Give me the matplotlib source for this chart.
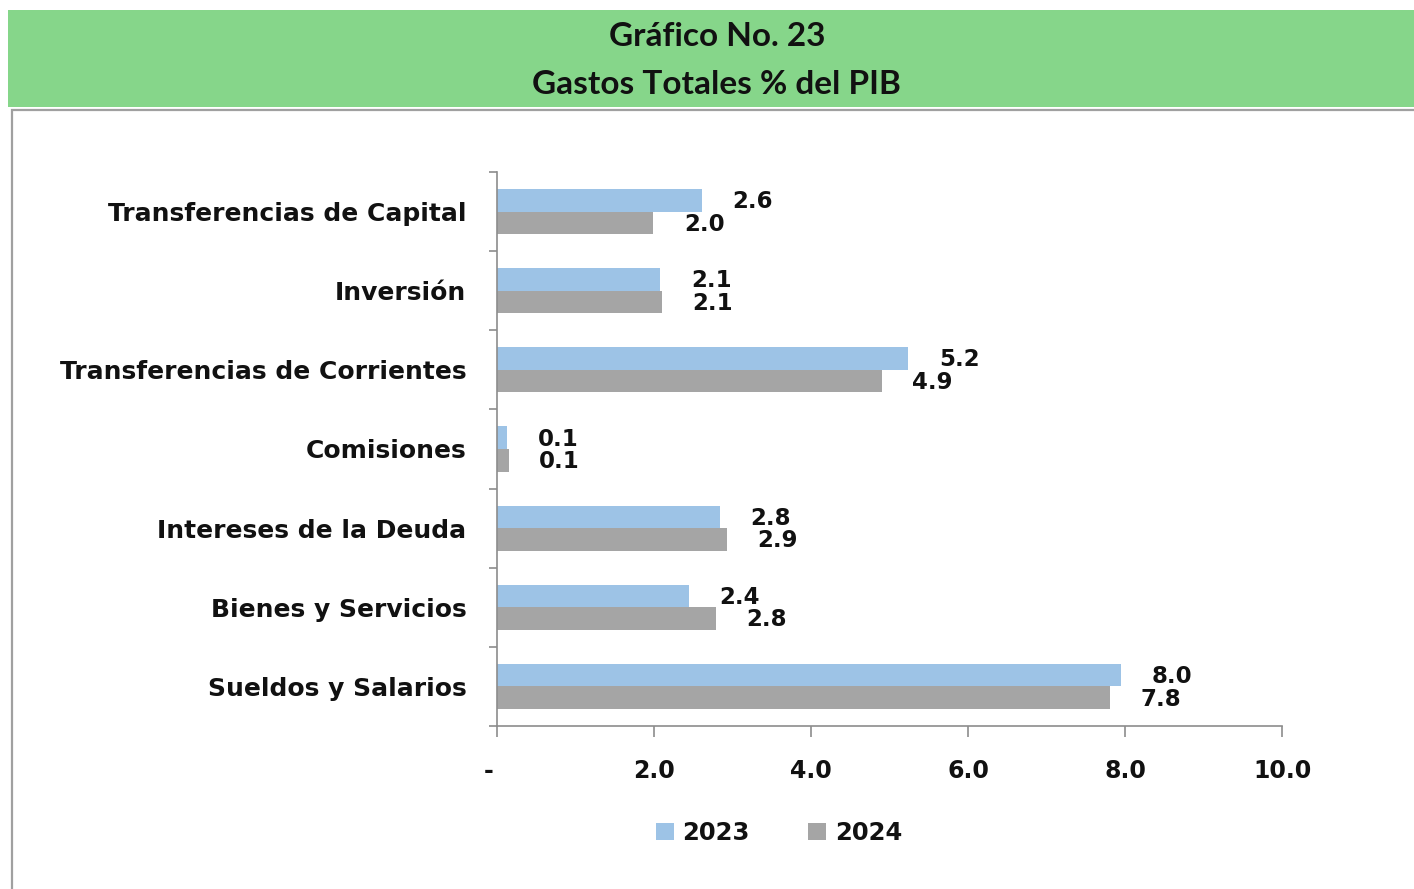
import matplotlib.pyplot as plt
from matplotlib.patches import Rectangle
from matplotlib.ticker import FuncFormatter
import numpy as np

categories = [
    "Sueldos y Salarios",
    "Bienes y Servicios",
    "Intereses de la Deuda",
    "Comisiones",
    "Transferencias de Corrientes",
    "Inversión",
    "Transferencias de Capital",
]
values_2023 = [7.95, 2.44, 2.84, 0.13, 5.24, 2.08, 2.61]
values_2024 = [7.81, 2.79, 2.93, 0.15, 4.90, 2.10, 1.99]
x_ticks = [0, 2, 4, 6, 8, 10]

blue = "#9DC3E6"
gray = "#A5A5A5"
green = "#86D68A"
axis_gray = "#8C8C8C"

fig = plt.figure(figsize=(14.14, 8.89), dpi=100)

# header band
fig.patches.append(Rectangle((8 / 1414, 1 - 107 / 889), 1.0, 97 / 889,
                             transform=fig.transFigure, facecolor=green,
                             edgecolor="none", zorder=0))
# panel border
fig.patches.append(Rectangle((12 / 1414, -0.05), 1.0, 1 - 110 / 889 + 0.05,
                             transform=fig.transFigure, facecolor="none",
                             edgecolor="#A0A0A0", lw=1.6, zorder=0))

fig.text(0.507, 1 - 37 / 889, "Gráfico No. 23", ha="center", va="center",
         fontsize=24, fontweight="bold", family="Lato", color="#111111")
fig.text(0.507, 1 - 84 / 889, "Gastos Totales % del PIB", ha="center",
         va="center", fontsize=24, fontweight="bold", family="Lato",
         color="#111111")

ax = fig.add_axes([497 / 1414, 1 - 726 / 889, 785 / 1414, 554 / 889])
ax.set_zorder(2)
ax.patch.set_alpha(0)

y = np.arange(len(categories))
h = 0.285
ax.barh(y + h / 2, values_2023, height=h, color=blue, label="2023")
ax.barh(y - h / 2, values_2024, height=h, color=gray, label="2024")

for yi, v in zip(y + h / 2, values_2023):
    ax.annotate(f"{v:.1f}", (v, yi), xytext=(22, -1), textcoords="offset points",
                ha="left", va="center", fontsize=16.5, fontweight="bold",
                color="#111111")
for yi, v in zip(y - h / 2, values_2024):
    ax.annotate(f"{v:.1f}", (v, yi), xytext=(22, -1), textcoords="offset points",
                ha="left", va="center", fontsize=16.5, fontweight="bold",
                color="#111111")

ax.set_xlim(0, 10)
ax.set_ylim(-0.5, len(categories) - 0.5)
ax.set_xticks(x_ticks)
ax.xaxis.set_major_formatter(FuncFormatter(
    lambda v, p: "-  " if v == 0 else f"{v:.1f}"))
ax.set_yticks(y)
ax.set_yticklabels(categories)
ax.set_yticks(np.arange(-0.5, len(categories)), minor=True)

for s in ["top", "right"]:
    ax.spines[s].set_visible(False)
for s in ["left", "bottom"]:
    ax.spines[s].set_color(axis_gray)
    ax.spines[s].set_linewidth(1.2)

ax.tick_params(axis="y", which="major", length=0, pad=22, labelsize=18)
ax.tick_params(axis="y", which="minor", length=6, color=axis_gray, width=1.2)
ax.tick_params(axis="x", length=8, color=axis_gray, width=1.2, pad=16,
               labelsize=17)
for t in ax.get_yticklabels():
    t.set_fontweight("bold")
    t.set_color("#111111")
for t in ax.get_xticklabels():
    t.set_fontweight("bold")
    t.set_color("#111111")

leg = ax.legend(loc="center", bbox_to_anchor=(779 / 1414, 1 - 833 / 889),
                bbox_transform=fig.transFigure, ncol=2, frameon=False,
                handlelength=0.75, handleheight=0.75, columnspacing=2.4,
                handletextpad=0.35, prop={"weight": "bold", "size": 17.5})
for t in leg.get_texts():
    t.set_color("#111111")

fig.savefig("out.png", dpi=100)
